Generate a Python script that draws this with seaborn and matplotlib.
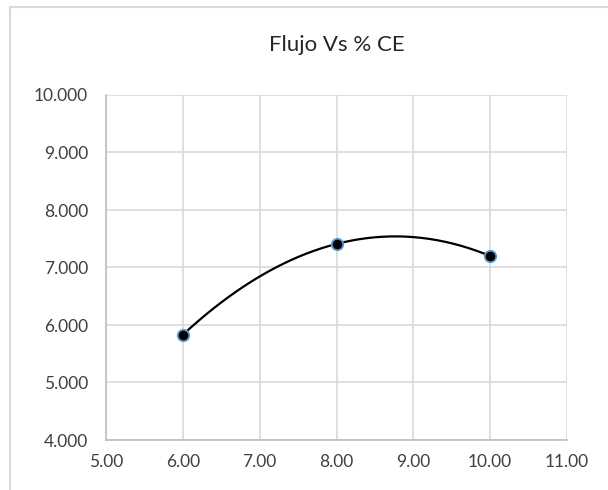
import numpy as np
import pandas as pd
import matplotlib
matplotlib.use("Agg")
import matplotlib.pyplot as plt
from matplotlib.patches import Rectangle
import seaborn as sns

# Flow vs % CE measurements
flujo = [6.0, 8.0, 10.0]
pct_ce = [5.83, 7.41, 7.20]

x_ticks = [5.0, 6.0, 7.0, 8.0, 9.0, 10.0, 11.0]
y_ticks = [4.0, 5.0, 6.0, 7.0, 8.0, 9.0, 10.0]
title = "Flujo Vs % CE"

df = pd.DataFrame({"flujo": flujo, "ce": pct_ce})

sns.set_theme(style="white")
plt.rcParams["font.family"] = ["Lato", "DejaVu Sans"]

fig = plt.figure(figsize=(6.08, 4.90), dpi=100)
fig.patch.set_facecolor("white")

# chart-area frame
fig.add_artist(Rectangle((10 / 608, -0.05), 1.2, (490 - 7) / 490 + 0.05,
                         transform=fig.transFigure, fill=False,
                         edgecolor="#D9D9D9", linewidth=1.5, zorder=0))

ax = fig.add_axes([106 / 608, 50 / 490, (567 - 106) / 608, (440 - 95) / 490])

# smooth curve through the three measurements (second-order fit)
coef = np.polyfit(df["flujo"], df["ce"], 2)
xs = np.linspace(df["flujo"].min(), df["flujo"].max(), 200)
curve = pd.DataFrame({"flujo": xs, "ce": np.polyval(coef, xs)})
sns.lineplot(data=curve, x="flujo", y="ce", ax=ax, color="black",
             linewidth=1.6, zorder=3)

sns.scatterplot(data=df, x="flujo", y="ce", ax=ax, color="black",
                edgecolor="#5B9BD5", linewidth=1.3, s=68, zorder=4)

ax.set_xlim(5, 11)
ax.set_ylim(4, 10)
ax.set_xticks(x_ticks)
ax.set_yticks(y_ticks)
ax.set_xticklabels([f"{v:.2f}" for v in x_ticks])
ax.set_yticklabels([f"{v:.3f}" for v in y_ticks])
ax.set_xlabel("")
ax.set_ylabel("")

ax.grid(True, color="#D9D9D9", linewidth=1.2)
ax.set_axisbelow(True)
for side in ["top", "right"]:
    ax.spines[side].set_visible(False)
for side in ["left", "bottom"]:
    ax.spines[side].set_color("#BFBFBF")
    ax.spines[side].set_linewidth(1.2)

ax.tick_params(axis="both", length=0, labelsize=12.5, colors="#404040")
ax.tick_params(axis="x", pad=10)
ax.tick_params(axis="y", pad=13)

fig.text((106 + 567) / 2 / 608, 1 - 45 / 490, title, ha="center",
         va="center", fontsize=16, color="#262626")

fig.savefig("out.png", dpi=100, facecolor="white")
